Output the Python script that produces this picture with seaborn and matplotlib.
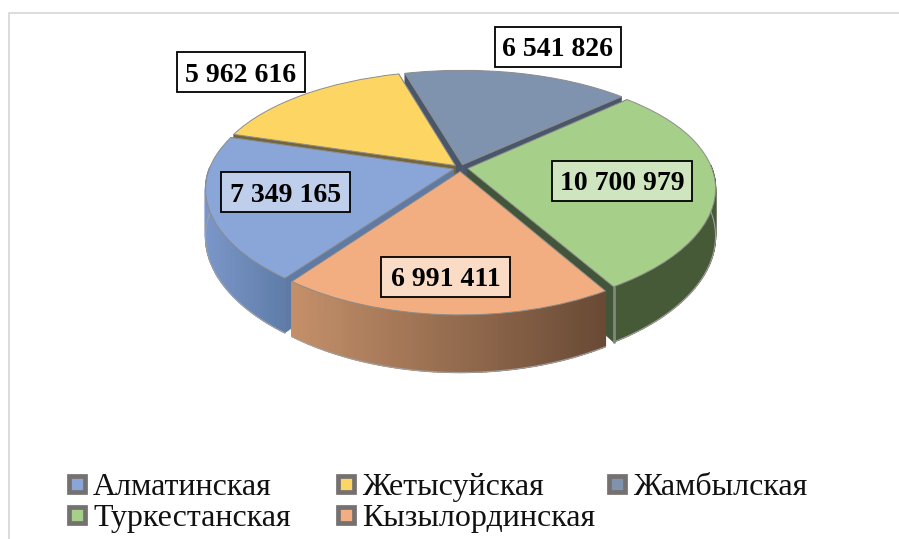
import numpy as np
import matplotlib
matplotlib.use("Agg")
import matplotlib.pyplot as plt
import matplotlib.colors as mcolors
from matplotlib.collections import PolyCollection
from matplotlib.patches import Rectangle
from matplotlib.transforms import Transform
import seaborn as sns

regions = ["Алматинская", "Жетысуйская", "Жамбылская", "Туркестанская", "Кызылординская"]
population = [7349165, 5962616, 6541826, 10700979, 6991411]
value_labels = ["7 349 165", "5 962 616", "6 541 826", "10 700 979", "6 991 411"]

top_colors = ["#8aa6d8", "#fdd563", "#7f93af", "#a6d08a", "#f2ae80"]
side_left = ["#7b97ca", "#a08a40", "#5d6e88", "#465a37", "#c4906a"]
side_right = ["#5f7da8", "#8a7636", "#4d5c72", "#465a37", "#694a35"]
face_colors = ["#5f7aa5", "#75663a", "#4a566a", "#42553a", "#6a4c38"]

# where the picture has things, in pixels
cx, cy = 460.5, 168
X, S, K, KX, D = 244, 114, 0.195, 0.165, 46
label_xy = [(285.5, 192), (241, 72), (558, 47), (622, 181), (445.5, 277)]
label_w = [129, 128, 126, 140, 129]
label_alpha = [0.45, 0, 0, 0.45, 0.55]
legend_xy = [(77, 484), (346, 484), (617, 484), (77, 515), (346, 515)]


def project(x, y, z=0.0):
    w = 1 + K * y
    return cx + X * x / (1 + KX * y), cy - S * y / w + z * D / w


class Persp(Transform):
    input_dims = 2
    output_dims = 2
    is_affine = False
    has_inverse = False

    def transform_non_affine(self, values):
        values = np.asarray(values)
        px, py = project(values[:, 0], values[:, 1])
        return np.column_stack([px, py])


sns.set_theme(style="white")
plt.rcParams["font.family"] = ["Liberation Serif", "DejaVu Serif"]
palette = sns.color_palette(top_colors)

fig = plt.figure(figsize=(8.99, 5.39), dpi=100)
ax = fig.add_axes([0, 0, 1, 1])

wedges, _ = ax.pie(population, colors=palette, startangle=233.5, counterclock=False,
                   explode=[0.03] * 5, radius=1,
                   wedgeprops=dict(edgecolor="#8c8c8c", linewidth=0.7))
ax.set_aspect("auto")
ax.set_xlim(0, 899)
ax.set_ylim(539, 0)
ax.axis("off")

persp = Persp() + ax.transData
# back slices get painted first
mids = [np.radians((w.theta1 + w.theta2) / 2) for w in wedges]
order = sorted(range(5), key=lambda i: -np.sin(mids[i]))
for rank, i in enumerate(order):
    w = wedges[i]
    w.set_transform(persp)
    w.set_zorder(3 * rank + 3)
    (ox, oy), r = w.center, w.r
    ang = np.radians(np.linspace(w.theta1, w.theta2, 80))
    rim_x = ox + r * np.cos(ang)
    rim_y = oy + r * np.sin(ang)
    tx, ty = project(rim_x, rim_y)
    bx, by = project(rim_x, rim_y, 1)

    # the two cut faces
    ax_, ay_ = project(ox, oy)
    ab_, ac_ = project(ox, oy, 1)
    faces = [[(ax_, ay_), (tx[e], ty[e]), (bx[e], by[e]), (ab_, ac_)] for e in (0, -1)]
    ax.add_collection(PolyCollection(faces, facecolors=face_colors[i], edgecolors=face_colors[i],
                                     linewidths=0.4, zorder=3 * rank + 1))

    # outer wall, front part only, shaded left to right across the slice
    front = np.sin(ang) < 0.03
    polys = []
    cols = []
    c0 = np.array(mcolors.to_rgb(side_left[i]))
    c1 = np.array(mcolors.to_rgb(side_right[i]))
    for j in range(79):
        if not (front[j] and front[j + 1]):
            continue
        polys.append([(tx[j], ty[j]), (tx[j + 1], ty[j + 1]), (bx[j + 1], by[j + 1]), (bx[j], by[j])])
        f = ((tx[j] + tx[j + 1]) / 2 - tx[front].min()) / (tx[front].max() - tx[front].min())
        cols.append(c0 + (c1 - c0) * f)
    if polys:
        ax.add_collection(PolyCollection(polys, facecolors=cols, edgecolors=cols, linewidths=1.0,
                                         zorder=3 * rank + 2))
        # lower outline of the wall
        ax.plot(bx[front], by[front], color="#a0a0a0", lw=0.8, zorder=3 * rank + 2)
    # light seam on the green wall, next to the orange slice
    if regions[i] == "Туркестанская":
        ax.plot([tx[0], bx[0]], [ty[0], by[0]], color="#7e8a77", lw=2, zorder=3 * rank + 2)

for i in range(5):
    if label_alpha[i] > 0:
        fc = mcolors.to_rgb(top_colors[i])
        fc = tuple(c + (1 - c) * label_alpha[i] for c in fc)
    else:
        fc = "white"
    lx, ly = label_xy[i]
    ax.add_patch(Rectangle((lx - label_w[i] / 2, ly - 20), label_w[i], 40, facecolor=fc,
                           edgecolor="black", linewidth=1.3, zorder=40))
    ax.text(lx, ly, value_labels[i], ha="center", va="center_baseline", fontsize=20,
            fontweight="bold", color="black", zorder=41)

# legend is laid out in two rows like the original
for i in range(5):
    lx, ly = legend_xy[i]
    ax.plot([lx], [ly], marker="s", ms=11.5, mfc=top_colors[i], mec="#767171", mew=3.4, zorder=5)
    ax.text(lx + 16, ly + 11, regions[i], fontsize=23, color="#111111", va="baseline", ha="left")

# thin frame, only top and left fall inside the picture
ax.plot([9, 9, 899], [539, 12.5, 12.5], color="#d9d9d9", lw=1.3, zorder=1)

fig.savefig("out.png", dpi=100, facecolor="white")
